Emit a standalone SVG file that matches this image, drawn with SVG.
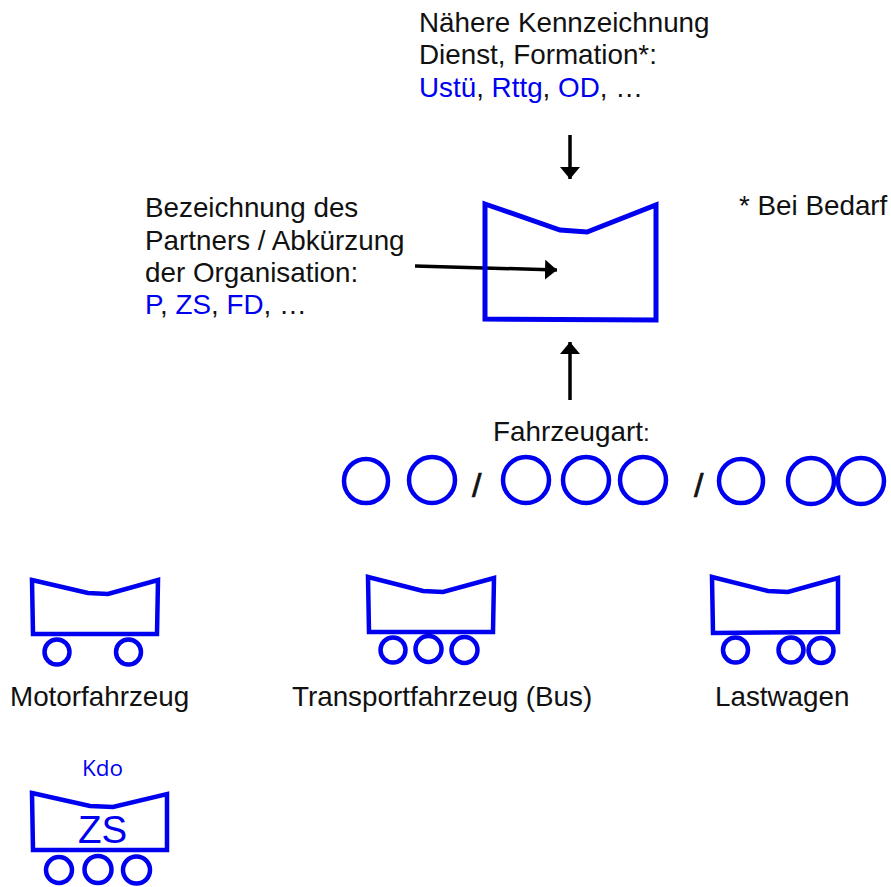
<svg xmlns="http://www.w3.org/2000/svg" width="891" height="887" viewBox="0 0 891 887">
<style>
text{font-family:"Liberation Sans",Arial,sans-serif;font-size:27.8px;fill:#111}
.b{fill:#0000f0}
.s{fill:none;stroke:#0000f0;stroke-width:4.5}
.c{fill:none;stroke:#0000f0;stroke-width:4.5}
.a{stroke:#000;stroke-width:3.5;fill:none;marker-end:url(#m)}
.sl{font-size:34px;stroke:#111;stroke-width:.7}
</style>
<defs><marker id="m" markerUnits="userSpaceOnUse" markerWidth="14" markerHeight="22" refX="12" refY="10" orient="auto"><path d="M0 0L12 10L0 20Z" fill="#000"/></marker></defs>
<rect width="891" height="887" fill="#fff"/>
<g id="connectors">
<path class="a" d="M570 135V179"/>
<path class="a" d="M415 266L557 270"/>
<path class="a" d="M570 400V342"/>
</g>
<g id="label-top"><text x="419" y="32">Nähere Kennzeichnung</text><text x="419" y="64">Dienst, Formation*:</text><text x="419" y="97"><tspan class="b">Ustü</tspan>, <tspan class="b">Rttg</tspan>, <tspan class="b">OD</tspan>, …</text></g>
<g id="label-left"><text x="145" y="217">Bezeichnung des</text><text x="145" y="250">Partners / Abkürzung</text><text x="145" y="282">der Organisation:</text><text x="145" y="314"><tspan class="b">P</tspan>, <tspan class="b">ZS</tspan>, <tspan class="b">FD</tspan>, …</text></g>
<g id="note"><text x="739" y="215">* Bei Bedarf</text></g>
<g id="main"><path class="s" style="stroke-width:5" d="M485 204L560 230L587 232L656 205V320L485 319Z"/></g>
<g id="fahrzeugart"><text x="493" y="441">Fahrzeugart<tspan style="font-size:24px">:</tspan></text>
<g class="c"><circle cx="366" cy="481" r="22"/><circle cx="432" cy="480" r="23"/><circle cx="526" cy="480" r="23"/><circle cx="586" cy="480" r="23"/><circle cx="643" cy="480" r="23"/><circle cx="741" cy="481" r="22"/><circle cx="811" cy="481" r="23"/><circle cx="861" cy="481" r="23"/></g>
<text x="472" y="497" class="sl">/</text><text x="694" y="497" class="sl">/</text></g>
<g id="motorfahrzeug"><path class="s" d="M32 580L88 593L108 594L158 580L157 634H33Z"/><circle class="c" cx="57" cy="652" r="12.5"/><circle class="c" cx="128.500" cy="652" r="12.500"/><text x="10" y="706">Motorfahrzeug</text></g>
<g id="transportfahrzeug"><path class="s" d="M368 577L423 591L443 592L494 578L493 632H369Z"/><circle class="c" cx="393" cy="650" r="12.500"/><circle class="c" cx="428.500" cy="649" r="13"/><circle class="c" cx="464.500" cy="650" r="13"/><text x="292" y="706">Transportfahrzeug (Bus)</text></g>
<g id="lastwagen"><path class="s" d="M712 577L768 591L788 592L838 578V632L713 633Z"/><circle class="c" cx="735.500" cy="650" r="12.500"/><circle class="c" cx="791" cy="650" r="12.500"/><circle class="c" cx="821" cy="650.500" r="12.500"/><text x="715" y="706">Lastwagen</text></g>
<g id="kdo"><text x="82" y="776" class="b" style="font-family:'Open Sans',sans-serif;font-size:22.500px">Kdo</text><path class="s" d="M32 793L90 806L113 807L167 794V850H33Z"/><text x="78" y="843" class="b" style="font-size:38.500px">ZS</text><circle class="c" cx="59" cy="870" r="13"/><circle class="c" cx="98" cy="869.500" r="13.500"/><circle class="c" cx="136.500" cy="870" r="13.500"/></g>
</svg>
